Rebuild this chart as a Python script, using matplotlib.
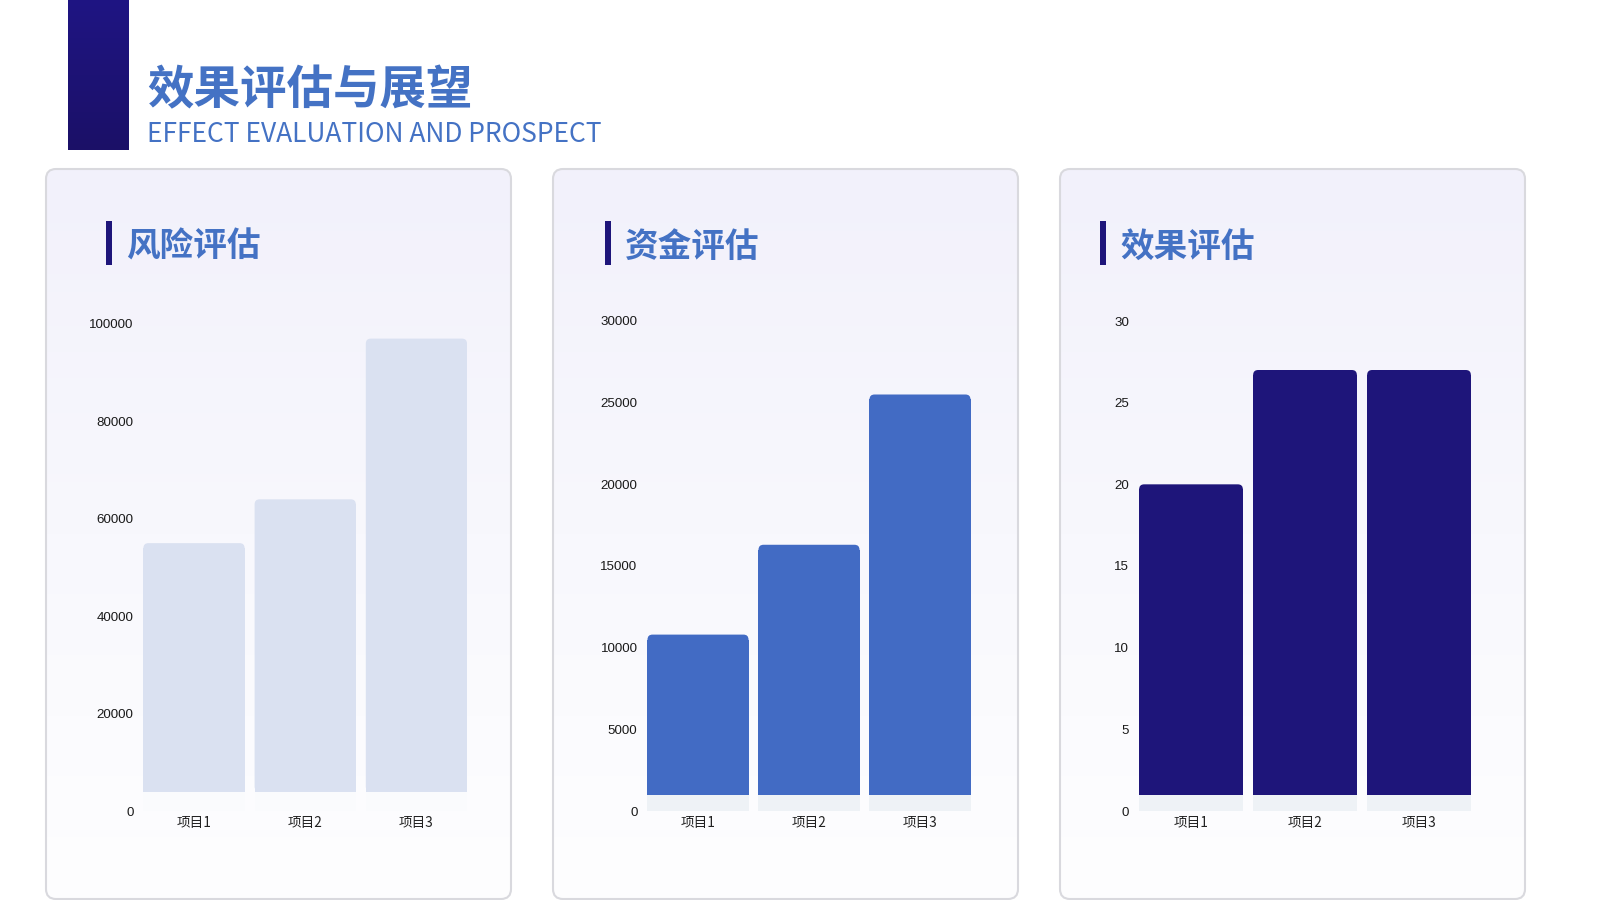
import numpy as np
import matplotlib
matplotlib.use("Agg")
import matplotlib.pyplot as plt
from matplotlib.patches import FancyBboxPatch, Rectangle
from matplotlib.colors import LinearSegmentedColormap

plt.rcParams['font.family'] = ['Noto Sans CJK SC', 'DejaVu Sans']

# données
titre = "效果评估与展望"
sous_titre = "EFFECT EVALUATION AND PROSPECT"
categories = ["项目1", "项目2", "项目3"]
titres_panneaux = ["风险评估", "资金评估", "效果评估"]
valeurs = [
    [55000, 64000, 97000],
    [10800, 16300, 25500],
    [20, 27, 27],
]
bandes = [4000, 1000, 1]          # socle clair sous chaque barre
y_max = [100000, 30000, 30]
y_pas = [20000, 5000, 5]

couleurs = ["#dae1f1", "#426bc4", "#1e157a"]
couleurs_bande = ["#fafbfd", "#eef2f6", "#eef2f6"]
bleu = "#4472c4"
marine = "#1e157a"

W, H = 1600, 900
fig = plt.figure(figsize=(16, 9), dpi=100)
fig.patch.set_facecolor("white")

# axe de fond en coordonnées pixels
bg = fig.add_axes([0, 0, 1, 1])
bg.set_xlim(0, W)
bg.set_ylim(H, 0)
bg.axis("off")

# bandeau vertical du titre (dégradé)
grad = np.linspace(0, 1, 256).reshape(-1, 1)
cm_bandeau = LinearSegmentedColormap.from_list("b", ["#1f1583", "#1b1067"])
bg.imshow(grad, cmap=cm_bandeau, extent=(68, 129, 150, 0), aspect="auto", zorder=1)

bg.text(147, 90, titre, fontsize=33.5, fontweight="bold", color=bleu, va="center", ha="left")
bg.text(147, 135, sous_titre, fontsize=19, color=bleu, va="center", ha="left",
        fontweight="light")

# panneaux
panneaux_x = [46, 553, 1060]
largeur_p, haut_p, bas_p = 465, 169, 899
accents_x = [106, 605, 1100]
cm_panneau = LinearSegmentedColormap.from_list("p", ["#f2f1fb", "#f8f8fd", "#fefeff"])
for px, ax_x, t in zip(panneaux_x, accents_x, titres_panneaux):
    cadre = FancyBboxPatch((px, haut_p), largeur_p, bas_p - haut_p,
                           boxstyle="round,pad=0,rounding_size=10",
                           fc="none", ec="#d9d9de", lw=1.5, zorder=3)
    bg.add_patch(cadre)
    im = bg.imshow(grad, cmap=cm_panneau, extent=(px, px + largeur_p, bas_p, haut_p),
                   aspect="auto", zorder=2)
    im.set_clip_path(cadre)
    bg.add_patch(Rectangle((ax_x, 221), 6, 44, fc=marine, ec="none", zorder=4))
    bg.text(ax_x + 20, 247, t, fontsize=24.2, fontweight="bold", color=bleu,
            va="center", ha="left", zorder=4)

# graphiques
axes_px = [(138.4, 472, 324), (642.5, 975.5, 321), (1134, 1476, 321)]
bas_axe = 811


def arrondir(ax, barres, couleur, r_px=5):
    p = ax.transData.transform([(0, 0), (1, 1)])
    px_x = p[1, 0] - p[0, 0]
    px_y = p[1, 1] - p[0, 1]
    rx, ry = r_px / px_x, r_px / px_y
    for b in barres:
        x, y, w, h = b.get_x(), b.get_y(), b.get_width(), b.get_height()
        ax.add_patch(FancyBboxPatch((x, y), w, h,
                                    boxstyle=f"round,pad=0,rounding_size={rx}",
                                    mutation_aspect=ry / rx, fc=couleur, ec="none",
                                    zorder=3))
        b.set_height(h - ry)


for i in range(3):
    g, d, haut = axes_px[i]
    ax = fig.add_axes([g / W, 1 - bas_axe / H, (d - g) / W, (bas_axe - haut) / H])
    ax.patch.set_alpha(0)
    x = np.arange(len(categories))
    ax.set_xlim(-0.5, len(categories) - 0.5)
    ax.set_ylim(0, y_max[i])
    v = np.array(valeurs[i], dtype=float)
    ax.bar(x, [bandes[i]] * len(x), width=0.91, color=couleurs_bande[i], zorder=2)
    barres = ax.bar(x, v - bandes[i], bottom=bandes[i], width=0.91,
                    color=couleurs[i], zorder=3)
    arrondir(ax, barres, couleurs[i])
    ax.set_yticks(np.arange(0, y_max[i] + 1, y_pas[i]))
    ax.set_xticks(x)
    ax.set_xticklabels(categories, fontsize=9.8, color="#222222")
    for lab in ax.get_yticklabels():
        lab.set_family(["Liberation Sans", "DejaVu Sans"])
        lab.set_fontsize(9.6)
        lab.set_color("#1a1a1a")
    ax.tick_params(length=0, pad=3.6)
    for s in ax.spines.values():
        s.set_visible(False)

fig.savefig("out.png", dpi=100, facecolor="white")
